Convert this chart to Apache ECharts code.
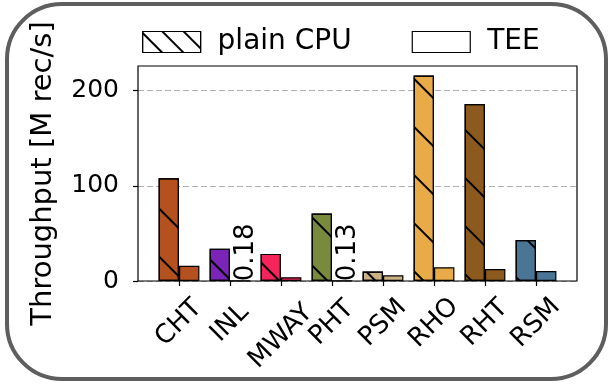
<!DOCTYPE html>
<html>
<head>
<meta charset="utf-8">
<script src="https://cdn.jsdelivr.net/npm/echarts@6/dist/echarts.min.js"></script>
<style>
  html, body { margin: 0; padding: 0; background: #fff; }
  #chart { width: 609px; height: 384px; }
</style>
</head>
<body>
<div id="chart"></div>
<script>
// Join algorithms and their throughput (million records per second)
const categories = ['CHT', 'INL', 'MWAY', 'PHT', 'PSM', 'RHO', 'RHT', 'RSM'];
const plainCpu = [108, 34, 28.5, 71, 10, 216, 186, 43];
const tee = [16, 0.18, 4, 0.13, 6, 14.5, 12.5, 10.5];
const barColors = ['#b5501f', '#7a25b8', '#f5245a', '#7a8a3c', '#cbb285', '#e8ab48', '#8c5a1e', '#4a7595'];
const yTicks = [0, 100, 200];
const yMax = 226;
// TEE values too small to see get their value written above the bar
const annotated = ['INL', 'PHT'];

const FONT = 'DejaVu Sans';

// Diagonal "\" hatching for the plain CPU bars
function makeHatch(gap) {
  return {
    symbol: 'rect',
    symbolSize: 1,
    color: '#000',
    dashArrayX: [1, 0],
    dashArrayY: [1.8, gap],
    rotation: Math.PI / 4
  };
}
const hatch = makeHatch(31.2);
const legendHatch = makeHatch(12.4);

// Rotated tick labels are centred on their tick; longer names are pushed
// down so every label box starts at the same height below the axis.
function tickLabel(name) {
  return name.length > 3 ? '{long|' + name + '}' : '{short|' + name + '}';
}

const chart = echarts.init(document.getElementById('chart'), null, { renderer: 'canvas' });

chart.setOption({
  animation: false,
  backgroundColor: '#fff',
  textStyle: { fontFamily: FONT },
  legend: {
    left: 137,
    top: 23,
    icon: 'rect',
    itemWidth: 58,
    itemHeight: 21,
    itemGap: 60,
    selectedMode: false,
    textStyle: { fontFamily: FONT, fontSize: 28, color: '#000', padding: [0, 0, 0, 12], lineHeight: 22 },
    data: [
      { name: 'plain CPU', itemStyle: { color: '#fff', borderColor: '#000', borderWidth: 1.2, decal: legendHatch } },
      { name: 'TEE', itemStyle: { color: '#fff', borderColor: '#000', borderWidth: 1.2 } }
    ]
  },
  grid: [
    // bar area: one band per category
    { left: 153.5, right: 47.5, top: 66, bottom: 103 },
    // axes frame
    { left: 138, right: 32, top: 66, bottom: 103, show: true, borderColor: '#000', borderWidth: 1.2, backgroundColor: 'transparent', z: 1 }
  ],
  xAxis: [
    {
      gridIndex: 0,
      type: 'category',
      data: categories,
      axisLine: { show: false },
      axisTick: { show: true, alignWithLabel: true, length: 5, lineStyle: { color: '#000', width: 1.2 } },
      axisLabel: {
        interval: 0,
        rotate: 45,
        align: 'center',
        verticalAlign: 'middle',
        margin: 42,
        fontSize: 26,
        fontFamily: FONT,
        color: '#000',
        formatter: tickLabel,
        rich: {
          short: { fontSize: 26, fontFamily: FONT, color: '#000' },
          long: { fontSize: 26, fontFamily: FONT, color: '#000', padding: [19, 19, 0, 0] }
        }
      }
    },
    { gridIndex: 1, type: 'value', show: false }
  ],
  yAxis: [
    { gridIndex: 0, type: 'value', min: 0, max: yMax, show: false },
    {
      gridIndex: 1,
      type: 'value',
      min: 0,
      max: yMax,
      name: 'Throughput [M rec/s]',
      nameLocation: 'middle',
      nameRotate: 90,
      nameGap: 80,
      nameTextStyle: { fontFamily: FONT, fontSize: 29, color: '#000' },
      axisLine: { show: false },
      axisTick: { show: true, length: 5, customValues: yTicks, lineStyle: { color: '#000', width: 1.2 } },
      axisLabel: { customValues: yTicks, fontSize: 25, fontFamily: FONT, color: '#000', margin: 19 },
      splitLine: { show: true, lineStyle: { color: '#b0b0b0', type: [6, 3], width: 1 } }
    }
  ],
  series: [
    {
      name: 'plain CPU',
      type: 'bar',
      xAxisIndex: 0,
      yAxisIndex: 0,
      barWidth: 20.4,
      barGap: '0%',
      z: 3,
      itemStyle: { color: '#fff', borderColor: '#000', borderWidth: 1.2, decal: hatch },
      data: plainCpu.map((v, i) => ({ value: v, itemStyle: { color: barColors[i], decal: hatch } }))
    },
    {
      name: 'TEE',
      type: 'bar',
      xAxisIndex: 0,
      yAxisIndex: 0,
      barWidth: 20.4,
      barGap: '0%',
      z: 3,
      itemStyle: { color: '#fff', borderColor: '#000', borderWidth: 1.2 },
      data: tee.map((v, i) => {
        const item = { value: v, itemStyle: { color: barColors[i] } };
        if (annotated.includes(categories[i])) {
          item.label = {
            show: true,
            position: 'top',
            formatter: '{c}',
            rotate: 90,
            align: 'left',
            verticalAlign: 'middle',
            distance: 0,
            offset: [-1, 6],
            fontSize: 26,
            fontFamily: FONT,
            color: '#000'
          };
        }
        return item;
      })
    }
  ],
  graphic: [
    {
      type: 'rect',
      shape: { x: 7, y: 4, width: 599, height: 375, r: 55 },
      style: { fill: null, stroke: '#5e5e5e', lineWidth: 4 },
      silent: true,
      z: 10
    }
  ]
});
</script>
</body>
</html>
